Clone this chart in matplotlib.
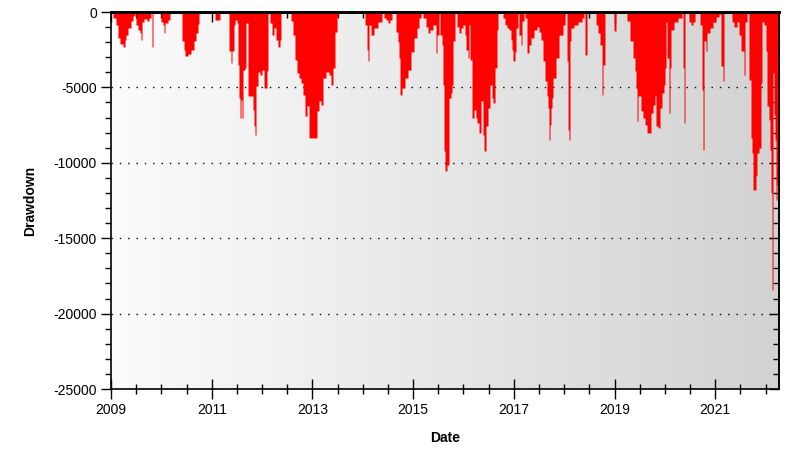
import numpy as np
import matplotlib.pyplot as plt
from matplotlib.colors import LinearSegmentedColormap
from matplotlib.ticker import MultipleLocator, FixedLocator, NullFormatter

plt.rcParams['font.family'] = ['Liberation Sans', 'DejaVu Sans']
plt.rcParams['axes.unicode_minus'] = False

# drawdown curve: (decimal year, drawdown)
years = [
    2009.000, 2009.040, 2009.099, 2009.139, 2009.179, 2009.238, 2009.278, 2009.298,
    2009.338, 2009.397, 2009.437, 2009.477, 2009.497, 2009.536, 2009.576, 2009.596,
    2009.616, 2009.655, 2009.715, 2009.755, 2009.794, 2009.814, 2009.834, 2009.993,
    2010.033, 2010.053, 2010.072, 2010.132, 2010.172, 2010.410, 2010.450, 2010.470,
    2010.529, 2010.589, 2010.648, 2010.688, 2010.728, 2010.748, 2011.066, 2011.125,
    2011.165, 2011.344, 2011.383, 2011.403, 2011.443, 2011.463, 2011.502, 2011.522,
    2011.542, 2011.562, 2011.582, 2011.602, 2011.622, 2011.661, 2011.681, 2011.721,
    2011.780, 2011.820, 2011.840, 2011.860, 2011.880, 2011.920, 2011.959, 2011.999,
    2012.039, 2012.078, 2012.098, 2012.118, 2012.158, 2012.198, 2012.237, 2012.277,
    2012.317, 2012.357, 2012.376, 2012.575, 2012.615, 2012.654, 2012.694, 2012.734,
    2012.774, 2012.813, 2012.853, 2012.893, 2012.933, 2012.972, 2013.012, 2013.052,
    2013.091, 2013.131, 2013.171, 2013.211, 2013.270, 2013.330, 2013.369, 2013.409,
    2013.449, 2013.489, 2013.509, 2014.045, 2014.085, 2014.104, 2014.124, 2014.164,
    2014.223, 2014.303, 2014.382, 2014.422, 2014.462, 2014.501, 2014.541, 2014.581,
    2014.660, 2014.700, 2014.720, 2014.740, 2014.780, 2014.839, 2014.899, 2014.958,
    2015.018, 2015.077, 2015.117, 2015.157, 2015.197, 2015.256, 2015.296, 2015.336,
    2015.395, 2015.455, 2015.475, 2015.514, 2015.534, 2015.574, 2015.594, 2015.614,
    2015.634, 2015.673, 2015.713, 2015.753, 2015.773, 2015.793, 2015.832, 2015.872,
    2015.912, 2015.951, 2015.991, 2016.031, 2016.051, 2016.090, 2016.110, 2016.130,
    2016.170, 2016.210, 2016.249, 2016.269, 2016.309, 2016.349, 2016.388, 2016.408,
    2016.448, 2016.488, 2016.527, 2016.567, 2016.587, 2016.627, 2016.666, 2016.686,
    2016.786, 2016.825, 2016.865, 2016.905, 2016.944, 2016.964, 2016.984, 2017.024,
    2017.044, 2017.083, 2017.103, 2017.143, 2017.163, 2017.203, 2017.222, 2017.262,
    2017.302, 2017.342, 2017.401, 2017.461, 2017.501, 2017.540, 2017.580, 2017.620,
    2017.659, 2017.679, 2017.699, 2017.719, 2017.739, 2017.759, 2017.779, 2017.838,
    2017.898, 2017.977, 2018.017, 2018.057, 2018.077, 2018.096, 2018.116, 2018.136,
    2018.196, 2018.275, 2018.355, 2018.394, 2018.414, 2018.454, 2018.633, 2018.672,
    2018.712, 2018.752, 2018.772, 2018.811, 2018.990, 2019.030, 2019.209, 2019.248,
    2019.308, 2019.368, 2019.407, 2019.427, 2019.447, 2019.467, 2019.526, 2019.566,
    2019.606, 2019.646, 2019.705, 2019.725, 2019.765, 2019.804, 2019.824, 2019.864,
    2019.904, 2019.943, 2019.983, 2020.003, 2020.023, 2020.043, 2020.082, 2020.102,
    2020.122, 2020.182, 2020.261, 2020.341, 2020.361, 2020.381, 2020.400, 2020.480,
    2020.519, 2020.559, 2020.599, 2020.698, 2020.738, 2020.758, 2020.778, 2020.817,
    2020.837, 2020.897, 2020.956, 2021.016, 2021.076, 2021.115, 2021.155, 2021.175,
    2021.334, 2021.373, 2021.433, 2021.473, 2021.513, 2021.552, 2021.572, 2021.592,
    2021.632, 2021.671, 2021.711, 2021.731, 2021.751, 2021.791, 2021.810, 2021.830,
    2021.870, 2021.910, 2021.929, 2021.969, 2022.009, 2022.029, 2022.068, 2022.088,
    2022.108, 2022.128, 2022.148, 2022.168, 2022.188, 2022.207, 2022.227, 2022.247,
    2022.267,
]
drawdown = [
    0, -400, -860, -1720, -2120, -2320, -1860, -1530,
    -1060, -600, -260, 0, -860, -1190, -1390, -1860,
    -660, -460, -600, -400, 0, -2320, 0, -660,
    -860, -1390, -730, -530, 0, -1920, -2520, -2920,
    -2790, -2520, -1920, -1390, -800, 0, -530, -530,
    0, -2590, -3380, -2590, -860, -530, -730, -3510,
    -5700, -7030, -5840, -7030, -3850, -3710, -730, -5570,
    -5570, -6500, -7560, -8160, -4910, -3980, -4180, -3850,
    -5040, -5040, -3910, 0, -730, -1530, -1060, -1860,
    -2320, -1860, 0, -600, -1530, -3180, -4040, -4380,
    -4710, -5500, -6900, -6230, -8350, -8350, -8350, -8350,
    -6560, -5900, -6170, -4380, -3980, -4180, -4840, -3710,
    -1330, -330, 0, -860, -2520, -3250, -860, -1530,
    -1060, -660, 0, -400, -530, -730, -530, 0,
    -1330, -1990, -3050, -5500, -5040, -4380, -3850, -2650,
    -1720, -1060, -400, 0, -400, -990, -1390, -1190,
    -860, -2720, -1530, 0, -1530, -2190, -4840, -9220,
    -10540, -10150, -5700, -5370, -4840, -1920, 0, -990,
    -1390, -1060, -860, -1530, -2520, -3050, -860, -3180,
    -7030, -6500, -7030, -7360, -8020, -5900, -8160, -9220,
    -7560, -6370, -4840, -5700, -6030, -3710, -1190, 0,
    -400, -860, -1060, -1190, -1860, -2520, -3250, -2650,
    -1060, 0, -1530, -2190, -600, 0, -400, -2720,
    -2190, -1720, -1190, -990, -1330, -1860, -3250, -4580,
    -5570, -6370, -8490, -7490, -6370, -5700, -4380, -3050,
    -1530, -860, 0, -3250, -7820, -8490, -1920, -1060,
    -860, -660, -400, 0, -2850, 0, -860, -1390,
    -2190, -5500, -3510, 0, -1260, 0, 0, -600,
    -1920, -3050, -3910, -5040, -7230, -5570, -6560, -7030,
    -7490, -8020, -8020, -6700, -6170, -5570, -7560, -7690,
    -6370, -5370, -4840, -3710, -660, -3050, -6700, -3710,
    -1190, -660, -400, 0, -3710, -7360, 0, -660,
    -860, -660, 0, -860, -5170, -9150, -1920, -2590,
    -1390, -1060, -660, -330, -130, -3580, -4580, 0,
    -660, -990, -660, -1530, -2590, -2590, -4180, -660,
    0, -4510, -8350, -9350, -11800, -11800, -10870, -9350,
    -9020, -4710, -660, -860, -2590, -6230, -7160, -9150,
    -12000, -18430, -4040, -6830, -8490, -12470, -11470, -10340,
    -10340,
]
year_ticks = [2009, 2011, 2013, 2015, 2017, 2019, 2021]
grid_levels = [-5000, -10000, -15000, -20000]

fig = plt.figure(figsize=(8.12, 4.62), dpi=100)
ax = fig.add_axes([111/812, 1 - 389/462, 668/812, 377/462])

# grey gradient behind the plot
grad = LinearSegmentedColormap.from_list('bg', ['#fcfcfc', '#d2d2d2'])
ax.imshow(np.linspace(0, 1, 256).reshape(1, -1), cmap=grad, aspect='auto',
          extent=[0, 1, 0, 1], transform=ax.transAxes, zorder=0)

ax.fill_between(years, drawdown, 0, step='post', color='#ff0000', linewidth=0, zorder=2)

ax.set_xlim(2009, 2022.267)
ax.set_ylim(-25000, 0)

ax.xaxis.set_major_locator(FixedLocator(year_ticks))
ax.xaxis.set_minor_locator(MultipleLocator(0.5))
ax.yaxis.set_major_locator(MultipleLocator(5000))
ax.yaxis.set_minor_locator(MultipleLocator(1000))

ax.tick_params(axis='x', which='major', direction='inout', length=14, width=1,
               labelsize=10, pad=3)
ax.tick_params(axis='x', which='minor', direction='inout', length=7, width=1)
ax.tick_params(axis='y', which='major', direction='out', length=7, width=1,
               labelsize=10, pad=3)
ax.tick_params(axis='y', which='minor', direction='out', length=4, width=1)

# top and right ticks point inwards
top = ax.secondary_xaxis('top')
top.xaxis.set_major_locator(FixedLocator(year_ticks))
top.xaxis.set_minor_locator(MultipleLocator(0.5))
top.xaxis.set_major_formatter(NullFormatter())
top.tick_params(which='major', direction='in', length=7, width=1)
top.tick_params(which='minor', direction='in', length=4, width=1)
top.spines['top'].set_linewidth(2)

right = ax.secondary_yaxis('right')
right.yaxis.set_major_locator(MultipleLocator(5000))
right.yaxis.set_minor_locator(MultipleLocator(1000))
right.yaxis.set_major_formatter(NullFormatter())
right.tick_params(which='major', direction='in', length=7, width=1)
right.tick_params(which='minor', direction='in', length=4, width=1)
right.spines['right'].set_linewidth(1.2)

for y in grid_levels:
    ax.axhline(y, color='black', linestyle=(0, (1, 5)), linewidth=1, zorder=1)

for s in ax.spines.values():
    s.set_linewidth(1.2)
ax.spines['top'].set_linewidth(2)

ax.set_xlabel('Date', fontsize=10, fontweight='bold', labelpad=10)
ax.set_ylabel('Drawdown', fontsize=10, fontweight='bold', labelpad=12)

fig.savefig('out.png', dpi=100)
